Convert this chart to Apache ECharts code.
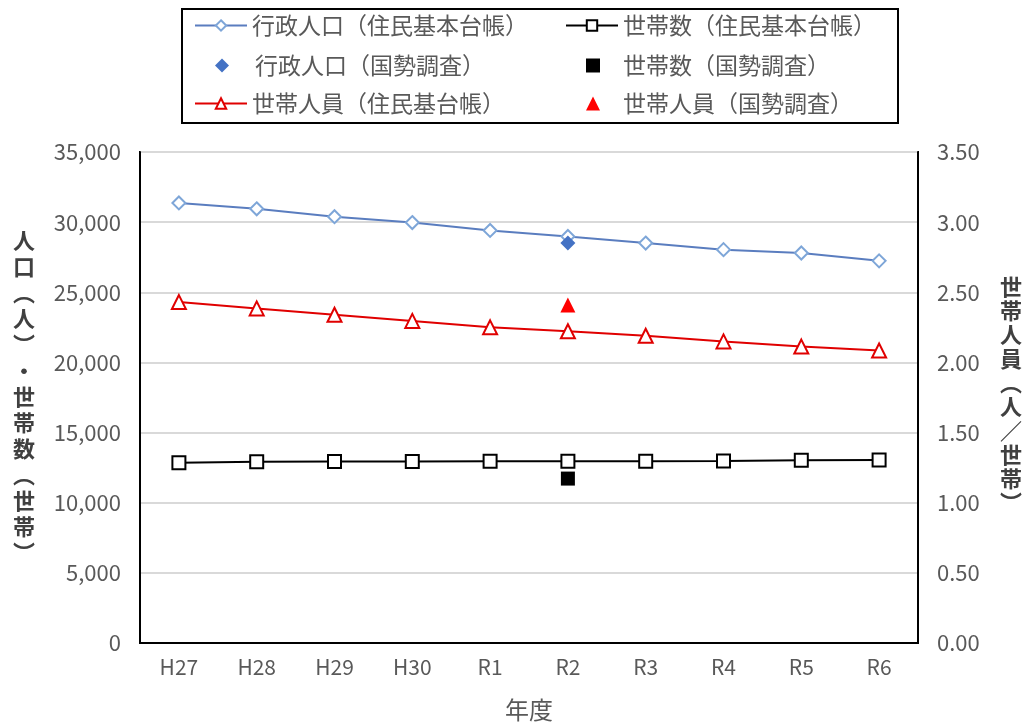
<!DOCTYPE html>
<html>
<head>
<meta charset="utf-8">
<script src="https://cdn.jsdelivr.net/npm/echarts@6/dist/echarts.min.js"></script>
<style>html,body{margin:0;padding:0;background:#fff;}#c{width:1028px;height:727px;}</style>
</head>
<body>
<div id="c"></div>
<script>
const categories = ['H27','H28','H29','H30','R1','R2','R3','R4','R5','R6'];
const popRegistry = [31370, 30950, 30390, 29970, 29410, 28980, 28510, 28040, 27800, 27240];
const householdsRegistry = [12840, 12920, 12930, 12940, 12950, 12960, 12960, 12970, 13030, 13040];
const popCensus = [null, null, null, null, null, 28510, null, null, null, null];
const householdsCensus = [null, null, null, null, null, 11720, null, null, null, null];
const sizeRegistry = [2.43, 2.385, 2.34, 2.296, 2.25, 2.222, 2.19, 2.15, 2.113, 2.085];
const sizeCensus = [null, null, null, null, null, 2.41, null, null, null, null];
const leftTicks = { min: 0, max: 35000, interval: 5000 };
const rightTicks = { min: 0, max: 3.5, interval: 0.5 };

const names = {
  popR: '行政人口（住民基本台帳）',
  hhR: '世帯数（住民基本台帳）',
  popC: '行政人口（国勢調査）',
  hhC: '世帯数（国勢調査）',
  sizeR: '世帯人員（住民基台帳）',
  sizeC: '世帯人員（国勢調査）'
};

const FONT = '"Noto Sans CJK JP", "Noto Sans", sans-serif';
const GRAY = '#595959';

function leg(name, left, top, opts) {
  return Object.assign({
    data: [name], left: left, top: top, orient: 'horizontal',
    itemWidth: 52, itemHeight: 13, itemGap: 0, padding: 0,
    textStyle: { fontFamily: FONT, fontSize: 23, color: GRAY },
    selectedMode: false
  }, opts || {});
}

const chart = echarts.init(document.getElementById('c'), null, { renderer: 'canvas' });
chart.setOption({
  backgroundColor: '#fff',
  animation: false,
  grid: { left: 140, right: 110, top: 152, bottom: 78, show: true, borderColor: '#000', borderWidth: 2, backgroundColor: 'transparent' },
  legend: [
    leg(names.popR, 194, 14),
    leg(names.hhR, 565, 14),
    leg(names.popC, 215, 54, { itemWidth: 14, itemHeight: 14, textStyle: { fontFamily: FONT, fontSize: 23, color: GRAY, padding: [0,0,0,21] } }),
    leg(names.hhC, 586, 54, { itemWidth: 14, itemHeight: 14, textStyle: { fontFamily: FONT, fontSize: 23, color: GRAY, padding: [0,0,0,18] } }),
    leg(names.sizeR, 194, 92),
    leg(names.sizeC, 586, 92, { itemWidth: 14, itemHeight: 14, textStyle: { fontFamily: FONT, fontSize: 23, color: GRAY, padding: [0,0,0,18] } })
  ],
  graphic: [
    { type: 'rect', shape: { x: 182, y: 9, width: 716, height: 114 }, style: { fill: 'none', stroke: '#000', lineWidth: 2 }, z: 0 },
    { type: 'text', x: 24, y: 397, style: { text: ['人','口','︵','人','︶','・','世','帯','数','︵','世','帯','︶'].join('\n'), fontFamily: FONT, fontSize: 22, fontWeight: 'bold', fill: '#404040', align: 'center', verticalAlign: 'middle', lineHeight: 26 } },
    { type: 'text', x: 1011, y: 395, style: { text: ['世','帯','人','員','︵','人','／','世','帯','︶'].join('\n'), fontFamily: FONT, fontSize: 22, fontWeight: 'bold', fill: '#404040', align: 'center', verticalAlign: 'middle', lineHeight: 24 } }
  ],
  xAxis: {
    type: 'category', data: categories, boundaryGap: true,
    name: '年度', nameLocation: 'middle', nameGap: 55,
    nameTextStyle: { fontFamily: FONT, fontSize: 24, color: GRAY },
    axisLine: { show: true, lineStyle: { color: '#000', width: 2 } },
    axisTick: { show: false },
    axisLabel: { fontFamily: FONT, fontSize: 21, color: GRAY, margin: 14 }
  },
  yAxis: [
    {
      type: 'value', min: leftTicks.min, max: leftTicks.max, interval: leftTicks.interval,
      axisLine: { show: true, lineStyle: { color: '#000', width: 2 } },
      axisTick: { show: false },
      splitLine: { show: true, lineStyle: { color: '#d9d9d9', width: 2 } },
      axisLabel: { fontFamily: FONT, fontSize: 22, color: GRAY, margin: 19,
        formatter: v => v.toLocaleString('en-US') }
    },
    {
      type: 'value', min: rightTicks.min, max: rightTicks.max, interval: rightTicks.interval,
      position: 'right',
      axisLine: { show: true, lineStyle: { color: '#000', width: 2 } },
      axisTick: { show: false },
      splitLine: { show: false },
      axisLabel: { fontFamily: FONT, fontSize: 22, color: GRAY, margin: 19,
        formatter: v => v.toFixed(2) }
    }
  ],
  series: [
    { name: names.popR, type: 'line', data: popRegistry, yAxisIndex: 0,
      symbol: 'diamond', symbolSize: 13, showAllSymbol: true,
      lineStyle: { color: '#5a7dbf', width: 2 },
      itemStyle: { color: '#fff', borderColor: '#7ea6d8', borderWidth: 2 }, z: 3 },
    { name: names.hhR, type: 'line', data: householdsRegistry, yAxisIndex: 0,
      symbol: 'rect', symbolSize: 13,
      lineStyle: { color: '#000', width: 2 },
      itemStyle: { color: '#fff', borderColor: '#000', borderWidth: 2 }, z: 3 },
    { name: names.popC, type: 'scatter', data: popCensus, yAxisIndex: 0,
      symbol: 'diamond', symbolSize: 15,
      itemStyle: { color: '#4472c4', opacity: 1 }, z: 4 },
    { name: names.hhC, type: 'scatter', data: householdsCensus, yAxisIndex: 0,
      symbol: 'rect', symbolSize: 14,
      itemStyle: { color: '#000', opacity: 1 }, z: 4 },
    { name: names.sizeR, type: 'line', data: sizeRegistry, yAxisIndex: 1,
      symbol: 'triangle', symbolSize: 14,
      lineStyle: { color: '#e00000', width: 2 },
      itemStyle: { color: '#fff', borderColor: '#e00000', borderWidth: 2 }, z: 3 },
    { name: names.sizeC, type: 'scatter', data: sizeCensus, yAxisIndex: 1,
      symbol: 'triangle', symbolSize: 15,
      itemStyle: { color: '#ff0000', opacity: 1 }, z: 4 }
  ]
});
</script>
</body>
</html>
